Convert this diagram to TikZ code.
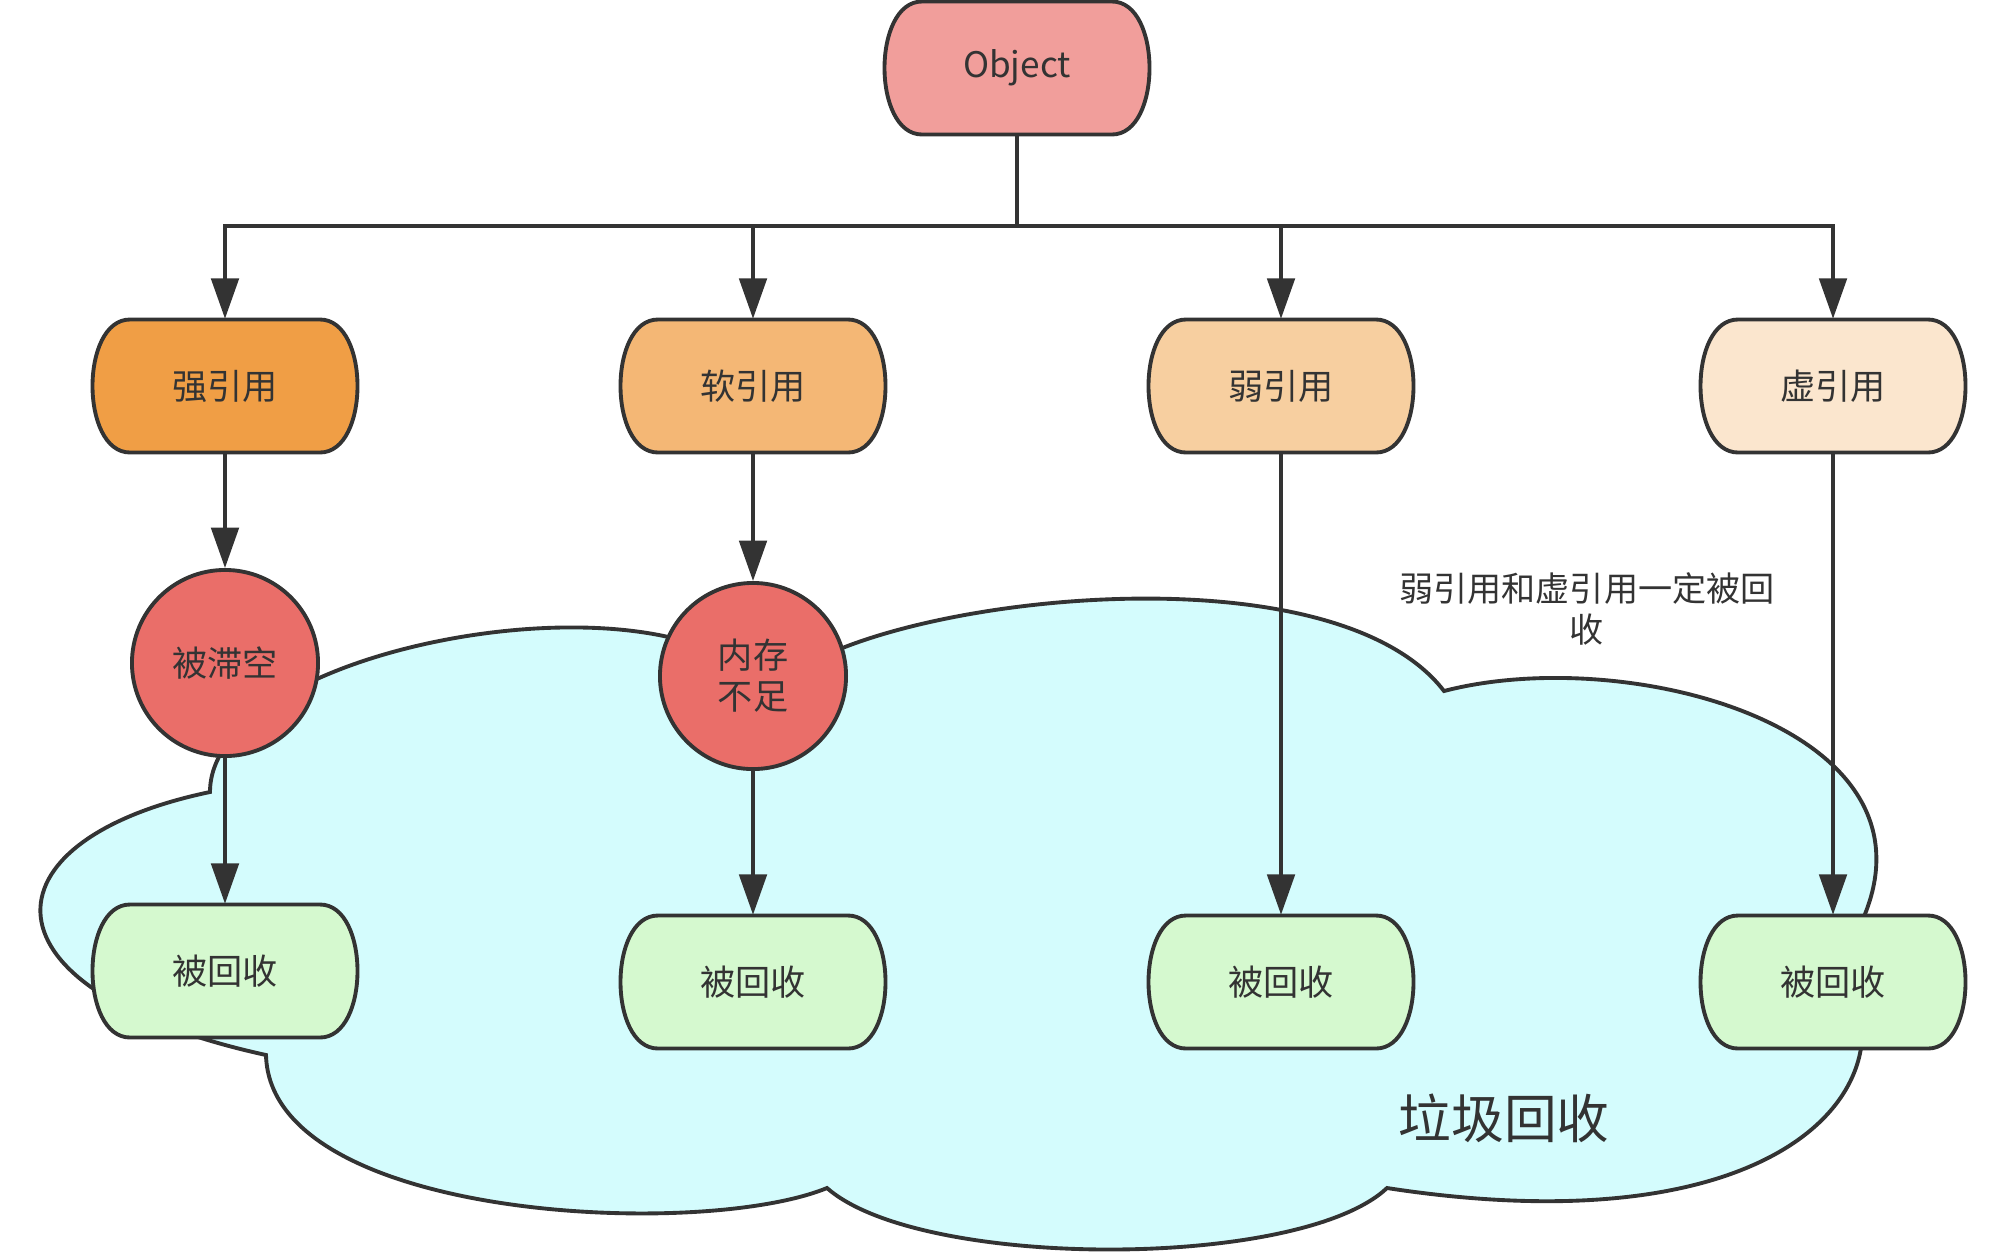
\documentclass[tikz,border=0pt]{standalone}
\usepackage{fontspec}
\setmainfont{Noto Sans CJK SC}
\usetikzlibrary{arrows.meta}
\definecolor{lc}{HTML}{333333}
\definecolor{txt}{HTML}{333333}
\definecolor{cloudc}{HTML}{D4FCFD}
\definecolor{objc}{HTML}{F19E9B}
\definecolor{strongc}{HTML}{F09E45}
\definecolor{softc}{HTML}{F4B775}
\definecolor{weakc}{HTML}{F7CFA0}
\definecolor{phantc}{HTML}{FBE6CE}
\definecolor{redc}{HTML}{EA6E69}
\definecolor{greenc}{HTML}{D5F9CF}
\tikzset{
  lineset/.style={draw=lc, line width=1.1pt},
  arr/.style={lineset, -{Triangle[length=11.5pt, width=7.8pt]}},
  boxanchor/.style={inner sep=0pt, minimum width=2.65cm, minimum height=1.33cm, text=txt, font=\fontsize{10}{11.7}\selectfont, align=center},
  redcircle/.style={circle, lineset, fill=redc, inner sep=0pt, minimum size=1.86cm, text=txt, font=\fontsize{10}{11.7}\selectfont, align=center},
  notetext/.style={inner sep=0pt, text=txt, font=\fontsize{9.7}{11.7}\selectfont, align=center},
  bigtext/.style={inner sep=0pt, text=txt, font=\fontsize{15}{18}\selectfont}
}
% capsule: name, cx, cy, fill, text
\newcommand{\capsule}[5]{%
  \path[lineset, fill=#4] (#2-95,#3-66.5) -- (#2+95,#3-66.5)
    .. controls (#2+145,#3-66.5) and (#2+145,#3+66.5) .. (#2+95,#3+66.5)
    -- (#2-95,#3+66.5)
    .. controls (#2-145,#3+66.5) and (#2-145,#3-66.5) .. (#2-95,#3-66.5) -- cycle;
  \node[boxanchor] (#1) at (#2,#3) {#5};%
}
\begin{document}
\begin{tikzpicture}[x=0.01cm, y=-0.01cm]
\useasboundingbox (0,0) rectangle (2016,1254);
% cloud
\path[lineset, fill=cloudc] (210,792)
  .. controls (210,640) and (700,560) .. (770,700)
  .. controls (800,610) and (1320,530) .. (1444,691)
  .. controls (1640,640) and (1990,740) .. (1840,960)
  .. controls (1920,1080) and (1790,1250) .. (1387,1188)
  .. controls (1300,1270) and (920,1270) .. (827,1188)
  .. controls (700,1240) and (270,1220) .. (266,1055)
  .. controls (-30,990) and (-20,840) .. (210,792) -- cycle;
\node[bigtext] (gc) at (1504,1118) {垃圾回收};
\node[notetext] (note) at (1587,609) {弱引用和虚引用一定被回\\收};
% nodes
\capsule{obj}{1017}{68}{objc}{Object}
\capsule{strong}{225}{386}{strongc}{强引用}
\capsule{soft}{753}{386}{softc}{软引用}
\capsule{weak}{1281}{386}{weakc}{弱引用}
\capsule{phant}{1833}{386}{phantc}{虚引用}
\node[redcircle] (c1) at (225,663) {被滞空};
\node[redcircle] (c2) at (753,676) {内存\\不足};
\capsule{r1}{225}{971}{greenc}{被回收}
\capsule{r2}{753}{982}{greenc}{被回收}
\capsule{r3}{1281}{982}{greenc}{被回收}
\capsule{r4}{1833}{982}{greenc}{被回收}
\coordinate (bus) at (1017,226);
% connectors
\draw[arr] (obj) -- (bus) -| (strong);
\draw[arr] (obj) -- (bus) -| (soft);
\draw[arr] (obj) -- (bus) -| (weak);
\draw[arr] (obj) -- (bus) -| (phant);
\draw[arr] (strong) -- (c1);
\draw[arr] (c1) -- (r1);
\draw[arr] (soft) -- (c2);
\draw[arr] (c2) -- (r2);
\draw[arr] (weak) -- (r3);
\draw[arr] (phant) -- (r4);
\end{tikzpicture}
\end{document}
